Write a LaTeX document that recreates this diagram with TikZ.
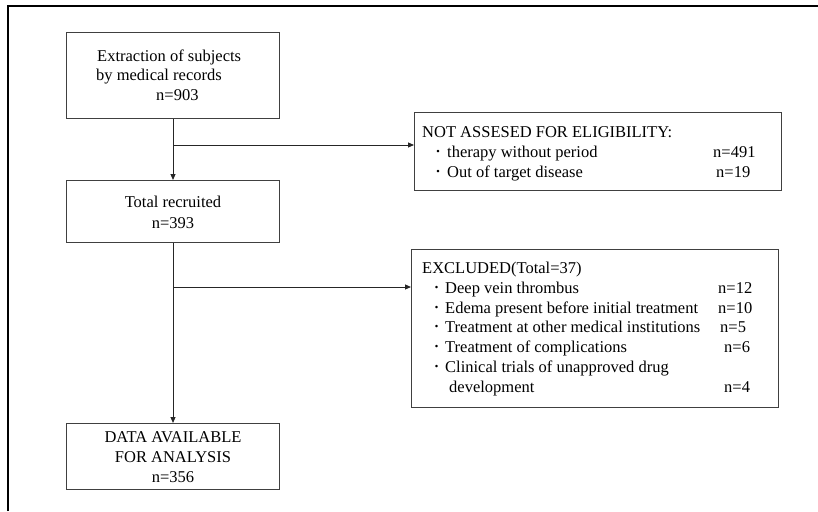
\documentclass[tikz,border=0pt]{standalone}
\usepackage{fontspec}
\setmainfont{Liberation Serif}
\usetikzlibrary{arrows.meta}
\newcommand{\mybul}[1]{\makebox[#1][c]{\raisebox{-1.2pt}{\fontsize{21}{20}\selectfont ·}}}
\begin{document}
\begin{tikzpicture}[x=1pt,y=-1pt,
  box/.style={draw=black!75, line width=1pt, fill=white, inner sep=0pt, anchor=north west},
  txt/.style={inner sep=0pt, font=\fontsize{16.5}{20}\selectfont},
  conn/.style={draw=black!85, line width=1pt},
  arr/.style={conn, -{Triangle[length=6pt,width=5pt]}},
  frameline/.style={draw=black, line width=2pt}
]
\useasboundingbox (0,0) rectangle (818,511);
% frame
\draw[frameline] (8,511) -- (8,6) -- (818,6);

% boxes
\node[box, minimum width=213pt, minimum height=86pt] (b1) at (66,32) {};
\node[box, minimum width=213pt, minimum height=62pt] (b2) at (66,180) {};
\node[box, minimum width=213pt, minimum height=66pt] (b3) at (66,423) {};
\node[box, minimum width=367pt, minimum height=78pt] (nb) at (414,112) {};
\node[box, minimum width=367pt, minimum height=158pt] (eb) at (411,249) {};

% box 1 text
\node[txt, anchor=base west] (t1a) at (97,61) {Extraction of subjects};
\node[txt, anchor=base west] (t1b) at (96,80) {by medical records};
\node[txt, anchor=base west] (t1c) at (156,100) {n=903};

% box 2 text
\node[txt, anchor=base] (t2a) at (173,207) {Total recruited};
\node[txt, anchor=base] (t2b) at (173,228) {n=393};

% box 3 text
\node[txt, anchor=base] (t3a) at (173,442) {DATA AVAILABLE};
\node[txt, anchor=base] (t3b) at (173,462) {FOR ANALYSIS};
\node[txt, anchor=base] (t3c) at (173,482) {n=356};

% not assessed box text
\node[txt, anchor=base west] (n0) at (422,137) {NOT ASSESED FOR ELIGIBILITY:};
\node[txt, anchor=base west] (n1) at (429,157) {\mybul{18pt}therapy without period};
\node[txt, anchor=base west] (n2) at (429,177) {\mybul{18pt}Out of target disease};
\node[txt, anchor=base west] (n1n) at (713,157) {n=491};
\node[txt, anchor=base west] (n2n) at (716,177) {n=19};

% excluded box text
\node[txt, anchor=base west] (e0) at (422,273) {EXCLUDED(Total=37)};
\node[txt, anchor=base west] (e1) at (428,293) {\mybul{17pt}Deep vein thrombus};
\node[txt, anchor=base west] (e2) at (428,313) {\mybul{17pt}Edema present before initial treatment};
\node[txt, anchor=base west] (e3) at (428,332) {\mybul{17pt}Treatment at other medical institutions};
\node[txt, anchor=base west] (e4) at (428,352) {\mybul{17pt}Treatment of complications};
\node[txt, anchor=base west] (e5) at (428,372) {\mybul{17pt}Clinical trials of unapproved drug};
\node[txt, anchor=base west] (e6) at (449,392) {development};
\node[txt, anchor=base west] (e1n) at (718,293) {n=12};
\node[txt, anchor=base west] (e2n) at (718,313) {n=10};
\node[txt, anchor=base west] (e3n) at (720,332) {n=5};
\node[txt, anchor=base west] (e4n) at (724,352) {n=6};
\node[txt, anchor=base west] (e6n) at (724,392) {n=4};

% connectors
\coordinate (br1) at (173,145);
\coordinate (br2) at (173,287);
\draw[arr] (b1.south -| br1) -- (b2.north -| br1);
\draw[arr] (br1) -- (br1 -| nb.west);
\draw[arr] (b2.south -| br2) -- (b3.north -| br2);
\draw[arr] (br2) -- (br2 -| eb.west);
\end{tikzpicture}
\end{document}
